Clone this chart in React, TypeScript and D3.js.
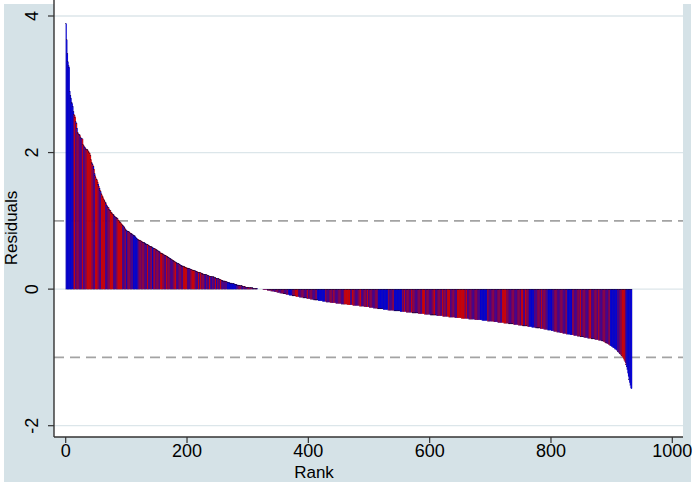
import React from 'react'
import * as d3 from 'd3'

// sorted residuals, in hundredths, rank 1..933
const residualsX100 = [
  389, 365, 345, 333, 327, 325, 290, 284, 280, 274, 272, 268, 260, 256, 254, 252, 245, 243, 236, 230,
  228, 227, 226, 225, 222, 221, 221, 220, 212, 210, 209, 208, 206, 205, 205, 204, 203, 201, 200, 199,
  196, 190, 186, 184, 182, 180, 176, 169, 166, 163, 161, 160, 157, 154, 151, 148, 145, 143, 140, 138,
  136, 134, 132, 130, 128, 127, 125, 123, 121, 120, 119, 117, 116, 115, 113, 112, 111, 110, 109, 108,
  107, 106, 105, 105, 104, 103, 101, 100, 99, 98, 97, 96, 95, 94, 93, 92, 91, 89, 88, 86,
  86, 85, 85, 84, 84, 83, 82, 82, 81, 80, 80, 79, 78, 78, 77, 76, 74, 74, 73, 73,
  72, 72, 71, 71, 70, 70, 69, 69, 68, 68, 67, 67, 66, 66, 65, 65, 64, 64, 63, 63,
  62, 62, 61, 61, 60, 60, 59, 59, 58, 58, 57, 56, 56, 55, 55, 54, 53, 53, 52, 52,
  51, 51, 50, 50, 49, 49, 48, 48, 47, 46, 46, 45, 45, 44, 43, 43, 42, 42, 41, 40,
  40, 39, 39, 38, 38, 37, 37, 36, 36, 35, 35, 34, 34, 34, 33, 33, 32, 32, 32, 31,
  31, 31, 30, 30, 30, 29, 29, 29, 28, 28, 28, 27, 27, 27, 26, 26, 26, 25, 25, 25,
  24, 24, 24, 23, 23, 23, 22, 22, 22, 21, 21, 21, 21, 20, 20, 20, 19, 19, 19, 19,
  18, 18, 18, 18, 17, 17, 17, 16, 16, 16, 15, 15, 15, 14, 14, 14, 13, 13, 13, 12,
  12, 12, 12, 11, 11, 11, 10, 10, 10, 10, 9, 9, 9, 9, 8, 8, 8, 8, 7, 7,
  7, 7, 6, 6, 6, 6, 5, 5, 5, 5, 5, 4, 4, 4, 4, 4, 3, 3, 3, 3,
  3, 3, 2, 2, 2, 2, 2, 2, 1, 1, 1, 1, 1, 1, 1, 1, 0, 0, 0, 0,
  0, 0, 0, 0, 0, -1, -1, -1, -1, -1, -1, -1, -2, -2, -2, -2, -2, -2, -3, -3,
  -3, -3, -3, -4, -4, -4, -4, -4, -5, -5, -5, -5, -5, -6, -6, -6, -6, -6, -7, -7,
  -7, -7, -7, -8, -8, -8, -8, -8, -9, -9, -9, -9, -9, -10, -10, -10, -10, -10, -10, -11,
  -11, -11, -11, -11, -11, -12, -12, -12, -12, -12, -12, -13, -13, -13, -13, -13, -13, -14, -14, -14,
  -14, -14, -14, -15, -15, -15, -15, -15, -15, -16, -16, -16, -16, -16, -16, -16, -17, -17, -17, -17,
  -17, -17, -17, -18, -18, -18, -18, -18, -18, -19, -19, -19, -19, -19, -19, -19, -20, -20, -20, -20,
  -20, -20, -20, -20, -20, -21, -21, -21, -21, -21, -21, -21, -21, -21, -22, -22, -22, -22, -22, -22,
  -22, -22, -22, -22, -23, -23, -23, -23, -23, -23, -23, -23, -23, -24, -24, -24, -24, -24, -24, -24,
  -24, -24, -24, -24, -25, -25, -25, -25, -25, -25, -25, -25, -26, -26, -26, -26, -26, -26, -26, -26,
  -27, -27, -27, -27, -27, -27, -27, -28, -28, -28, -28, -28, -28, -28, -29, -29, -29, -29, -29, -29,
  -29, -29, -29, -30, -30, -30, -30, -30, -30, -30, -30, -31, -31, -31, -31, -31, -31, -31, -31, -31,
  -31, -32, -32, -32, -32, -32, -32, -32, -32, -32, -32, -33, -33, -33, -33, -33, -33, -33, -33, -33,
  -33, -34, -34, -34, -34, -34, -34, -34, -34, -34, -34, -35, -35, -35, -35, -35, -35, -35, -35, -35,
  -35, -36, -36, -36, -36, -36, -36, -36, -36, -36, -36, -37, -37, -37, -37, -37, -37, -37, -37, -37,
  -37, -38, -38, -38, -38, -38, -38, -38, -38, -38, -38, -39, -39, -39, -39, -39, -39, -39, -39, -39,
  -39, -40, -40, -40, -40, -40, -40, -40, -40, -40, -40, -41, -41, -41, -41, -41, -41, -41, -41, -41,
  -41, -42, -42, -42, -42, -42, -42, -42, -42, -42, -42, -42, -43, -43, -43, -43, -43, -43, -43, -43,
  -43, -43, -43, -43, -44, -44, -44, -44, -44, -44, -44, -44, -44, -44, -45, -45, -45, -45, -45, -45,
  -45, -45, -45, -45, -45, -45, -46, -46, -46, -46, -46, -46, -46, -46, -46, -47, -47, -47, -47, -47,
  -47, -47, -47, -47, -47, -48, -48, -48, -48, -48, -48, -48, -49, -49, -49, -49, -49, -49, -49, -49,
  -49, -49, -50, -50, -50, -50, -50, -50, -50, -50, -51, -51, -51, -51, -51, -51, -51, -51, -52, -52,
  -52, -52, -52, -52, -52, -52, -53, -53, -53, -53, -53, -53, -53, -54, -54, -54, -54, -54, -54, -54,
  -54, -55, -55, -55, -55, -55, -55, -55, -56, -56, -56, -56, -56, -56, -56, -57, -57, -57, -57, -57,
  -57, -57, -58, -58, -58, -58, -58, -58, -59, -59, -59, -59, -59, -59, -60, -60, -60, -60, -60, -60,
  -61, -61, -61, -61, -62, -62, -62, -62, -62, -63, -63, -63, -63, -63, -64, -64, -64, -64, -64, -65,
  -65, -65, -65, -65, -65, -66, -66, -66, -66, -66, -66, -67, -67, -67, -67, -67, -67, -68, -68, -68,
  -68, -68, -68, -69, -69, -69, -69, -69, -70, -70, -70, -70, -70, -70, -71, -71, -71, -71, -71, -71,
  -72, -72, -72, -72, -72, -72, -73, -73, -73, -73, -73, -73, -74, -74, -74, -74, -74, -74, -75, -75,
  -75, -75, -75, -76, -76, -76, -77, -77, -78, -78, -79, -79, -80, -80, -81, -81, -82, -83, -83, -84,
  -84, -85, -86, -86, -87, -88, -88, -89, -90, -91, -92, -93, -94, -95, -96, -97, -98, -99, -100, -102,
  -104, -106, -108, -111, -114, -118, -123, -128, -133, -137, -141, -145, -146,
]

// group of each ranked observation: b = blue, r = red
const groups =
  'bbbbbbbbbbbb' + 'brrrbrbrbrbrbrbrrbrbrbr' + 'rrrrrrrr' + 'brbrb' + 'rrrrr' + 'brbrbr' + 'rrrrrr' +
  'brbrbrb' + 'rrrrrr' + 'brbrbrb' + 'rrrrrrrr' + 'brbrbrbbrbrbrbrbr' + 'bbbbbbbbb' +
  'rbrbrbrrbrbrbrbrrbrbrbrbbrbrrbrbrbrb' + 'rrrrr' + 'brbrbrrrbrbrbrbrbrbrrrbrbrbrbrbrb' + 'rrrrrrr' +
  'brbrbrb' + 'rrrrrr' + 'brbrbrrbrrrbrbrbrbbrbrbrrbrbbrbrbrrbbrbrbrrbrbrbbrbr' +
  'bbbbbbbbbbbbbbbbb' +
  'rbrbrbrbrbbrbrbrbrbrrbrbrbrbrbrbrbrbrbrb' + 'brbrbrbrbrrbrbrrbrbrbrbrbrbrbrbrbrbrbrbrbrbr' + 'bbbbbbb' +
  'rbrb' + 'rrrrrr' + 'brbrbrbrbrbrbrbrrbrbrbrbrbrbrbrb' + 'bbbbbbbbbbbbb' + 'rbrbrbrbrbrbrrbrbrbrbrbrbrbrbrbr' +
  'rrrrrrrrr' + 'brbrrrbrbrbrbrb' + 'rrr' + 'brbrbrbrbrrrbrbrbrbrbrbrbrbrbb' + 'bbbbbbbbbbbbbbb' +
  'rbrbrbrbrb' + 'bbbbbbbbbbbbb' + 'rbrrrbrbrbrbrbrrrbrbrbrbrbrbrbrb' + 'rrrrrr' +
  'brbrbrbrbrbrbrrrbrbrbrbrbrbrrrbrbrbr' + 'rrrrr' + 'brbrbrbrbrbr' + 'rrrrrrrrrrrr' +
  'brrrbrbrbrbrbrbrbrbrbrbr' + 'bbbbbbbbbbbbb' + 'rbrbrbrbrbrbrbrbrbrbrbrb' + 'rrrrrrrr' +
  'brbrbrbrbrbrbrbrbrbrbrbr' + 'rrr' + 'brbrrrbrbr' + 'bbbbbbbbb' + 'rbrbrbrbrbrrrbrbrbrbr' + 'bbbbbbbbb' +
  'rbrbrbrbrbrbrbrbrbrbrbr' + 'bbbbbbbbb' + 'rbrbrbrbrbrb' + 'rrr' +
  'brbrbrbrbrbrbrrrbrbrbrbrbrbrrbrbrbrbrbrbrbrbrbr' + 'bbbbbbbbbbbbb' + 'rbrbrb' + 'rrrrrr' + 'brb' + 'bbbbbbbb'

const yTicks = [-2, 0, 2, 4]
const xTicks = [0, 200, 400, 600, 800, 1000]
const refLines = [-1, 1]

const App = () => {
  const width = 696
  const height = 487
  const plot = { left: 54, right: 683, top: 0, bottom: 437 }
  const font = "'Liberation Sans', Arial, Helvetica, sans-serif"

  const xScale = d3.scaleLinear().domain([0, 1000]).range([65.7, 672.3])
  const yScale = d3.scaleLinear().domain([-2, 4]).range([425.7, 16])
  const values = residualsX100.map((v) => v / 100)
  const y0 = yScale(0)
  const barColor = { r: '#f00000', b: '#0000f0' }

  return (
    <svg width={width} height={height} style={{ position: 'absolute', left: 0, top: 0 }}>
      <rect x={4} y={4} width={687} height={478} fill="#d5e2e7" />
      <rect x={plot.left} y={plot.top} width={plot.right - plot.left} height={plot.bottom - plot.top} fill="#ffffff" />

      {yTicks.map((t) => (
        <line key={'g' + t} x1={plot.left} x2={plot.right} y1={yScale(t)} y2={yScale(t)} stroke="#dce6ea" strokeWidth={1.3} />
      ))}

      {/* reference lines sit under the bars */}
      {refLines.map((t) => (
        <line key={'r' + t} x1={plot.left} x2={plot.right} y1={yScale(t)} y2={yScale(t)}
          stroke="#a3a3a3" strokeWidth={1.6} strokeDasharray="10,6" />
      ))}

      {/* bars overlap a little so no white seams show between them */}
      {values.map((v, i) => {
        const x0 = xScale(i)
        const x1 = xScale(i + 1)
        const yv = yScale(v)
        const c = barColor[groups[i] === 'r' ? 'r' : 'b']
        return (
          <rect
            key={i}
            x={x0}
            y={Math.min(yv, y0)}
            width={(x1 - x0) + 0.45}
            height={Math.abs(yv - y0)}
            fill={c}
            stroke="#1a0030"
            strokeOpacity={0.7}
            strokeWidth={0.18}
          />
        )
      })}

      <line x1={plot.left} x2={plot.left} y1={plot.top} y2={plot.bottom} stroke="#333" strokeWidth={1.4} />
      <line x1={plot.left} x2={plot.right} y1={plot.bottom} y2={plot.bottom} stroke="#333" strokeWidth={1.4} />

      {yTicks.map((t) => (
        <g key={'y' + t}>
          <line x1={plot.left - 6} x2={plot.left} y1={yScale(t)} y2={yScale(t)} stroke="#333" strokeWidth={1.2} />
          <text transform={`translate(38,${yScale(t)}) rotate(-90)`} textAnchor="middle"
            fontFamily={font} fontSize={18}>{t}</text>
        </g>
      ))}

      {xTicks.map((t) => (
        <g key={'x' + t}>
          <line x1={xScale(t)} x2={xScale(t)} y1={plot.bottom} y2={plot.bottom + 6} stroke="#333" strokeWidth={1.2} />
          <text x={xScale(t)} y={457} textAnchor="middle" fontFamily={font} fontSize={18}>{t}</text>
        </g>
      ))}

      <text transform="translate(17,228) rotate(-90)" textAnchor="middle" fontFamily={font} fontSize={17}>Residuals</text>
      <text x={314} y={478} textAnchor="middle" fontFamily={font} fontSize={17}>Rank</text>
    </svg>
  )
}

export default App
